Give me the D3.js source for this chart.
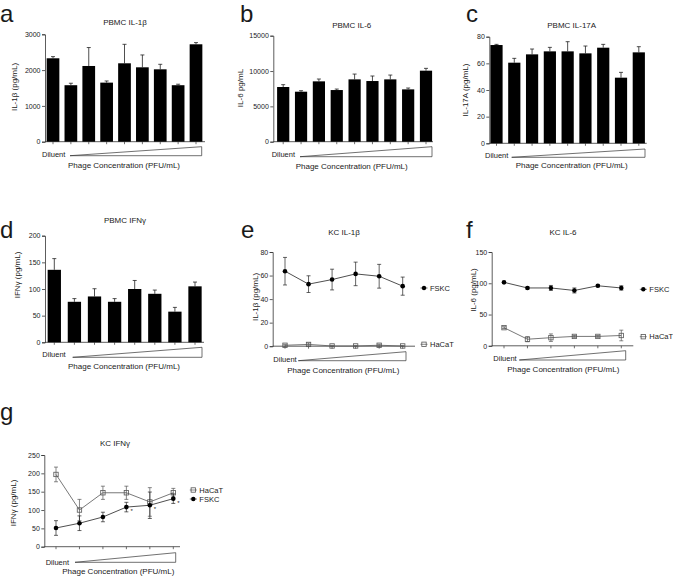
<!DOCTYPE html>
<html><head><meta charset="utf-8">
<script src="https://cdn.jsdelivr.net/npm/d3@7"></script>
<style>
body{margin:0;background:#fff}
svg{display:block}
text{font-family:"Liberation Sans",Arial,Helvetica,sans-serif;fill:#1a1a1a}
</style>
</head><body>
<svg id="chart" width="673" height="576"></svg>
<script>
// ---------- DATA ----------
const doses9 = ["Diluent","D1","D2","D3","D4","D5","D6","D7","D8"];
const doses8 = ["Diluent","D1","D2","D3","D4","D5","D6","D7"];
const doses6 = ["Diluent","D1","D2","D3","D4","D5"];

const aVals = [2330,1578,2115,1650,2190,2078,2022,1578,2721];
const aErr  = [46,55,515,46,530,345,140,28,47];
const aTicks = [0,1000,2000,3000];

const bVals = [7740,7075,8540,7310,8820,8585,8820,7405,10050];
const bErr  = [330,140,330,140,750,710,610,190,330];
const bTicks = [0,5000,10000,15000];

const cVals = [73.75,60.5,66.75,69,69,67.5,71.75,49.25,68.25];
const cErr  = [0.5,3.25,4,3,7.25,5.5,2.5,4,4.25];
const cTicks = [0,20,40,60,80];

const dVals = [136,76,86,76,100,91,57.5,105];
const dErr  = [21,6,14.5,6,16,7,8,8];
const dTicks = [0,50,100,150,200];

const eFSKC = [63.7,52.7,56.6,61.4,59.4,51];
const eFSKCerr = [11.7,7.1,8.8,10,10.1,7.7];
const eHaCaT = [0.8,1.5,0.2,0.2,0.8,0.2];
const eHaCaTerr = [0.8,1.2,0.5,0.3,0.8,0.3];
const eTicks = [0,20,40,60,80];

const fFSKC = [101.5,92.5,92.5,88.5,96,92.5];
const fFSKCerr = [1.5,1.5,4,4,1.5,3.5];
const fHaCaT = [29,10.5,13,15,15,16.5];
const fHaCaTerr = [1.5,4,6,1.5,1.5,8.5];
const fTicks = [0,50,100,150];

const gHaCaT = [197,100,147,147,122,147];
const gHaCaTerr = [20,29,18,18,39,12];
const gFSKC = [51,64,81,108,113,131];
const gFSKCerr = [20,20,13,13,36,13];
const gTicks = [0,50,100,150,200,250];
const gStars = [false,false,false,true,true,true];

// ---------- DRAWING ----------
const svg = d3.select("#chart");
const FONT = "'Liberation Sans',Arial,sans-serif";

function commonParts(p, x, y){
  const g = svg.append("g");
  g.append("text").attr("x",p.letter[0]).attr("y",p.letter[1])
    .style("font-size","24px").text(p.id);
  g.append("text").attr("x",p.title[1]).attr("y",p.title[2])
    .attr("text-anchor","middle").style("font-size","8px").text(p.title[0]);
  g.append("text").attr("transform",`translate(${p.ylab[1]},${p.ylab[2]}) rotate(-90)`)
    .attr("text-anchor","middle").attr("dy","0.35em").style("font-size","8px").text(p.ylab[0]);
  const ya = d3.axisLeft(y).tickValues(p.ticks).tickSize(3).tickPadding(1.5).tickFormat(d3.format("d"));
  const yg = g.append("g").attr("transform",`translate(${p.ax},0)`).call(ya);
  yg.selectAll("text").style("font-size","7px").style("font-family",FONT).attr("fill","#222");
  yg.selectAll("line,path").attr("stroke","#333").attr("stroke-width",0.8);
  g.append("line").attr("x1",p.ax).attr("x2",p.axEnd).attr("y1",y(0)).attr("y2",y(0))
    .attr("stroke","#333").attr("stroke-width",0.8);
  g.selectAll(".xt").data(p.cats).join("line")
    .attr("x1",d=>x(d)).attr("x2",d=>x(d)).attr("y1",y(0)).attr("y2",y(0)+2.5)
    .attr("stroke","#333").attr("stroke-width",0.7);
  const t = p.tri;
  g.append("text").attr("x",t.dx).attr("y",t.dy).style("font-size","7.5px").text("Diluent");
  g.append("path").attr("d",`M${t.x0},${t.yb}L${t.x1},${t.yt}L${t.x1},${t.yb}Z`)
    .attr("fill","none").attr("stroke","#333").attr("stroke-width",0.7);
  g.append("text").attr("x",t.cx).attr("y",t.cy).attr("text-anchor","middle")
    .style("font-size","8px").text("Phage Concentration (PFU/mL)");
  return g;
}

function barPanel(p){
  const x = d3.scalePoint().domain(p.cats).range([p.c0,p.c1]);
  const y = d3.scaleLinear().domain([0,p.ymax]).range([p.yb,p.yt]);
  const g = commonParts(p,x,y);
  const data = p.cats.map((c,i)=>({c,v:p.vals[i],e:p.err[i]}));
  g.selectAll(".eb").data(data).join("line")
    .attr("x1",d=>x(d.c)).attr("x2",d=>x(d.c)).attr("y1",d=>y(d.v)).attr("y2",d=>y(d.v+d.e))
    .attr("stroke","#222").attr("stroke-width",0.8);
  g.selectAll(".ec").data(data).join("line")
    .attr("x1",d=>x(d.c)-2).attr("x2",d=>x(d.c)+2).attr("y1",d=>y(d.v+d.e)).attr("y2",d=>y(d.v+d.e))
    .attr("stroke","#222").attr("stroke-width",0.8);
  g.selectAll(".bar").data(data).join("rect")
    .attr("x",d=>x(d.c)-p.bw/2).attr("width",p.bw)
    .attr("y",d=>y(d.v)).attr("height",d=>y(0)-y(d.v)).attr("fill","#000");
}

function drawSeries(g,x,y,cats,vals,errs,type){
  const data = cats.map((c,i)=>({c,v:vals[i],e:errs[i]}));
  const col = type==="sq" ? "#555" : "#222";
  g.append("path").datum(data)
    .attr("d",d3.line().x(d=>x(d.c)).y(d=>y(d.v)))
    .attr("fill","none").attr("stroke",col).attr("stroke-width",0.8);
  g.selectAll(null).data(data).join("line")
    .attr("x1",d=>x(d.c)).attr("x2",d=>x(d.c)).attr("y1",d=>y(d.v-d.e)).attr("y2",d=>y(d.v+d.e))
    .attr("stroke",col).attr("stroke-width",0.7);
  [1,-1].forEach(s=>{
    g.selectAll(null).data(data).join("line")
      .attr("x1",d=>x(d.c)-2).attr("x2",d=>x(d.c)+2)
      .attr("y1",d=>y(d.v+s*d.e)).attr("y2",d=>y(d.v+s*d.e))
      .attr("stroke",col).attr("stroke-width",0.7);
  });
  if(type==="sq"){
    g.selectAll(null).data(data).join("rect")
      .attr("x",d=>x(d.c)-2.2).attr("y",d=>y(d.v)-2.2).attr("width",4.4).attr("height",4.4)
      .attr("fill","none").attr("stroke","#555").attr("stroke-width",0.8);
  } else {
    g.selectAll(null).data(data).join("circle")
      .attr("cx",d=>x(d.c)).attr("cy",d=>y(d.v)).attr("r",2.3).attr("fill","#000");
  }
}

function legendItem(g,lx,ly,label,type){
  const col = type==="sq" ? "#555" : "#222";
  g.append("line").attr("x1",lx-3.5).attr("x2",lx+3.5).attr("y1",ly).attr("y2",ly)
    .attr("stroke",col).attr("stroke-width",0.7);
  if(type==="sq"){
    g.append("rect").attr("x",lx-2.2).attr("y",ly-2.2).attr("width",4.4).attr("height",4.4)
      .attr("fill","none").attr("stroke","#555").attr("stroke-width",0.8);
  } else {
    g.append("circle").attr("cx",lx).attr("cy",ly).attr("r",2.2).attr("fill","#000");
  }
  g.append("text").attr("x",lx+6).attr("y",ly).attr("dy","0.35em")
    .style("font-size","7.5px").text(label);
}

function linePanel(p){
  const x = d3.scalePoint().domain(p.cats).range([p.c0,p.c1]);
  const y = d3.scaleLinear().domain([0,p.ymax]).range([p.yb,p.yt]);
  const g = commonParts(p,x,y);
  p.series.forEach(s=>drawSeries(g,x,y,p.cats,s.vals,s.err,s.type));
  p.series.forEach(s=>legendItem(g,s.leg[0],s.leg[1],s.name,s.type));
  if(p.stars){
    const fs = p.series.find(s=>s.name==="FSKC");
    g.selectAll(null).data(p.cats.filter((c,i)=>p.stars[i]).map(c=>({c,v:fs.vals[p.cats.indexOf(c)]})))
      .join("text").attr("x",d=>x(d.c)+4).attr("y",d=>y(d.v)+6)
      .style("font-size","6px").text("*");
  }
}

barPanel({id:"a",cats:doses9,vals:aVals,err:aErr,ticks:aTicks,ymax:3000,
  ax:45,axEnd:205,c0:53,c1:196,yb:141.7,yt:34.3,bw:12.7,
  letter:[0,22],title:["PBMC IL-1β",125,24.5],ylab:["IL-1β (pg/mL)",14,87],
  tri:{dx:42,dy:156.5,x0:70,x1:201.7,yb:155.7,yt:146.7,cx:124,cy:167.5}});

barPanel({id:"b",cats:doses9,vals:bVals,err:bErr,ticks:bTicks,ymax:15000,
  ax:273.3,axEnd:433,c0:283.2,c1:426,yb:141.7,yt:35.7,bw:12.2,
  letter:[240,22],title:["PBMC IL-6",351.7,27.5],ylab:["IL-6 pg/mL",240,88],
  tri:{dx:271.7,dy:156.5,x0:300,x1:432,yb:156.7,yt:146.7,cx:351.7,cy:169}});

barPanel({id:"c",cats:doses9,vals:cVals,err:cErr,ticks:cTicks,ymax:80,
  ax:489.3,axEnd:646.7,c0:496.5,c1:638.8,yb:143.3,yt:36.7,bw:12.2,
  letter:[466,22],title:["PBMC IL-17A",571.7,27.5],ylab:["IL-17A (pg/mL)",465,90],
  tri:{dx:485,dy:157.5,x0:511.7,x1:645,yb:157.3,yt:149,cx:571.7,cy:167.5}});

barPanel({id:"d",cats:doses8,vals:dVals,err:dErr,ticks:dTicks,ymax:200,
  ax:45,axEnd:204,c0:54.3,c1:195,yb:342.3,yt:235.7,bw:13.3,
  letter:[0,238],title:["PBMC IFNγ",125,223],ylab:["IFNγ (pg/mL)",16.7,275],
  tri:{dx:42.3,dy:357,x0:72.7,x1:202,yb:357.3,yt:347.3,cx:124,cy:368.5}});

linePanel({id:"e",cats:doses6,ticks:eTicks,ymax:80,
  ax:272.7,axEnd:415,c0:285,c1:402.7,yb:346.2,yt:252,
  letter:[241,238],title:["KC IL-1β",344,234.5],ylab:["IL-1β (pg/mL)",255,297],
  tri:{dx:273.3,dy:362,x0:298.3,x1:406,yb:360.7,yt:351.7,cx:343.3,cy:373},
  series:[{name:"FSKC",vals:eFSKC,err:eFSKCerr,type:"dot",leg:[424,288]},
          {name:"HaCaT",vals:eHaCaT,err:eHaCaTerr,type:"sq",leg:[424,344.3]}]});

linePanel({id:"f",cats:doses6,ticks:fTicks,ymax:150,
  ax:491.7,axEnd:633.3,c0:504,c1:621.3,yb:345.8,yt:252,
  letter:[466,238],title:["KC IL-6",563,234.5],ylab:["IL-6 (pg/mL)",473,290],
  tri:{dx:493.3,dy:361,x0:519.3,x1:625.7,yb:360,yt:350.7,cx:563.3,cy:372},
  series:[{name:"FSKC",vals:fFSKC,err:fFSKCerr,type:"dot",leg:[643.3,289.3]},
          {name:"HaCaT",vals:fHaCaT,err:fHaCaTerr,type:"sq",leg:[643.3,336.7]}]});

linePanel({id:"g",cats:doses6,ticks:gTicks,ymax:250,stars:gStars,
  ax:44.3,axEnd:180,c0:56,c1:173.3,yb:546.7,yt:455,
  letter:[0,420],title:["KC IFNγ",115,446],ylab:["IFNγ (pg/mL)",13,503],
  tri:{dx:45.7,dy:565,x0:75,x1:175.7,yb:562.3,yt:552.7,cx:118.3,cy:574},
  series:[{name:"HaCaT",vals:gHaCaT,err:gHaCaTerr,type:"sq",leg:[193.3,490]},
          {name:"FSKC",vals:gFSKC,err:gFSKCerr,type:"dot",leg:[193.3,499]}]});
</script>
</body></html>
